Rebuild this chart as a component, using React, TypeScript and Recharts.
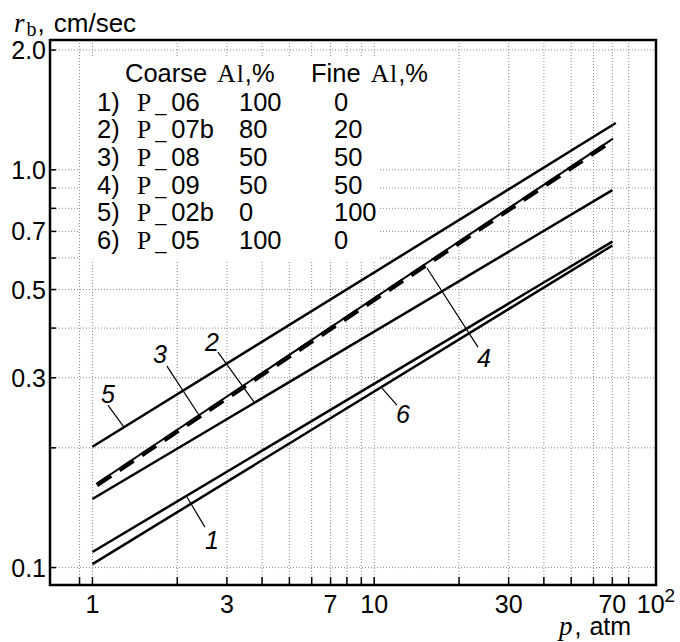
import React from "react";
import {
    LineChart,
    Line,
    XAxis,
    YAxis,
    CartesianGrid,
    ReferenceArea,
    ReferenceLine,
    ReferenceDot,
} from "recharts";

const SANS = '"Liberation Sans", Arial, Helvetica, sans-serif';
const SERIF = '"Liberation Serif", "Times New Roman", serif';

// pressure p, atm, at the two ends of each fitted line
const pressure = [1, 70];
const pressureP08 = [1.037, 70.4];
const pressureP02b = [1, 72];

// burning rate r_b, cm/sec, at those ends
const rbP06 = [0.1094, 0.66];
const rbP07b = [0.1487, 0.889];
const rbP08 = [0.1612, 1.188];
const rbP09 = [0.1627, 1.198];
const rbP02b = [0.2013, 1.311];
const rbP05 = [0.102, 0.645];

const xTicks = [0.9, 1, 2, 3, 4, 5, 6, 7, 8, 9, 10, 20, 30, 40, 50, 60, 70, 80, 100];
const xTickLabels = [1, 3, 7, 10, 30, 70];
const yTicks = [0.1, 0.2, 0.3, 0.4, 0.5, 0.6, 0.7, 0.8, 0.9, 1.0, 2.0];
const yTickLabels = [0.1, 0.3, 0.5, 0.7, 1.0, 2.0];

const xDomain = [0.707, 100];
const yDomain = [0.0904, 2.12];

// legend table
const legendNo = ["1)", "2)", "3)", "4)", "5)", "6)"];
const legendId = ["06", "07b", "08", "09", "02b", "05"];
const coarseAl = ["100", "80", "50", "50", "0", "100"];
const fineAl = ["0", "20", "50", "50", "100", "0"];

// curve number callouts, in data units (p, r_b)
const calloutLabel = ["5", "3", "2", "4", "6", "1"];
const calloutText = [[1.135, 0.273], [1.736, 0.344], [2.656, 0.369], [24.5, 0.3364], [12.65, 0.2432], [2.656, 0.1173]];
const leaderFrom = [[1.135, 0.256], [1.838, 0.321], [2.789, 0.348], [23.35, 0.3584], [12.04, 0.2562], [2.507, 0.1264]];
const leaderTo = [[1.294, 0.2256], [2.388, 0.2418], [3.743, 0.2608], [15.39, 0.5664], [10.65, 0.2827], [2.165, 0.1504]];

const toPoints = (ps: number[], rs: number[]) => ps.map((p, i) => ({ p, r: rs[i] }));

function XTick(props: any) {
    const { x, y, payload } = props;
    const v = payload.value;
    return (
        <g>
            <line x1={x} y1={y} x2={x} y2={y - 8} stroke="#000" strokeWidth={1.5} />
            {xTickLabels.includes(v) && (
                <text x={x} y={y + 28} textAnchor="middle" fontFamily={SANS} fontSize={25} fill="#000">
                    {v}
                </text>
            )}
            {v === 100 && (
                <text x={x} y={y + 28} textAnchor="middle" fontFamily={SANS} fontSize={25} fill="#000">
                    10<tspan dy={-11} fontSize={19}>2</tspan>
                </text>
            )}
        </g>
    );
}

function YTick(props: any) {
    const { x, y, payload } = props;
    const v = payload.value;
    return (
        <g>
            <line x1={x} y1={y} x2={x + 6} y2={y} stroke="#000" strokeWidth={1.5} />
            {yTickLabels.includes(v) && (
                <text x={x - 4} y={y + 9} textAnchor="end" fontFamily={SANS} fontSize={25} fill="#000">
                    {v.toFixed(1)}
                </text>
            )}
        </g>
    );
}

export default function App() {
    const solid = { stroke: "#000", strokeWidth: 2.5, dot: false, type: "linear" as const, isAnimationActive: false };
    return (
        <div style={{ position: "absolute", left: 0, top: 0, width: 680, height: 642, background: "#fff" }}>
            <LineChart width={680} height={642} margin={{ top: 40, right: 24, bottom: 0, left: 0 }}>
                <CartesianGrid stroke="#8a8a8a" strokeDasharray="1 2" />
                <XAxis
                    dataKey="p"
                    type="number"
                    scale="log"
                    domain={xDomain}
                    allowDataOverflow
                    ticks={xTicks}
                    interval={0}
                    height={57}
                    axisLine={false}
                    tickLine={false}
                    tickSize={0}
                    tickMargin={0}
                    tick={XTick}
                />
                <YAxis
                    dataKey="r"
                    type="number"
                    scale="log"
                    domain={yDomain}
                    allowDataOverflow
                    ticks={yTicks}
                    interval={0}
                    width={50}
                    axisLine={false}
                    tickLine={false}
                    tickSize={0}
                    tickMargin={0}
                    tick={YTick}
                />
                <ReferenceArea
                    x1={xDomain[0]}
                    x2={xDomain[1]}
                    y1={yDomain[0]}
                    y2={yDomain[1]}
                    fill="none"
                    fillOpacity={0}
                    stroke="#000"
                    strokeWidth={2.5}
                    ifOverflow="visible"
                />
                <Line data={toPoints(pressure, rbP06)} dataKey="r" {...solid} />
                <Line data={toPoints(pressure, rbP07b)} dataKey="r" {...solid} />
                <Line data={toPoints(pressureP08, rbP09)} dataKey="r" {...solid} strokeWidth={2} />
                <Line
                    data={toPoints(pressureP08, rbP08)}
                    dataKey="r"
                    {...solid}
                    strokeWidth={4.5}
                    strokeDasharray="17 10"
                />
                <Line data={toPoints(pressureP02b, rbP02b)} dataKey="r" {...solid} />
                <Line data={toPoints(pressure, rbP05)} dataKey="r" {...solid} />
                {calloutLabel.map((lab, i) => (
                    <ReferenceLine
                        key={`leader-${lab}`}
                        segment={[
                            { x: leaderFrom[i][0], y: leaderFrom[i][1] },
                            { x: leaderTo[i][0], y: leaderTo[i][1] },
                        ]}
                        stroke="#000"
                        strokeWidth={1.2}
                        ifOverflow="visible"
                    />
                ))}
                {calloutLabel.map((lab, i) => (
                    <ReferenceDot
                        key={`label-${lab}`}
                        x={calloutText[i][0]}
                        y={calloutText[i][1]}
                        r={0}
                        ifOverflow="visible"
                        shape={(p: any) => (
                            <text
                                x={p.cx}
                                y={p.cy + 9}
                                textAnchor="middle"
                                fontFamily={SANS}
                                fontStyle="italic"
                                fontSize={25}
                                fill="#000"
                            >
                                {lab}
                            </text>
                        )}
                    />
                ))}
            </LineChart>
            <svg
                width={680}
                height={642}
                style={{ position: "absolute", left: 0, top: 0, pointerEvents: "none" }}
            >
                <rect x={80} y={57} width={298} height={205} fill="#fff" />
                <text x={125} y={82} fontFamily={SANS} fontSize={25.5} fill="#000">
                    Coarse <tspan dx={3} fontFamily={SERIF} letterSpacing={1}>Al</tspan>,%
                </text>
                <text x={311} y={82} fontFamily={SANS} fontSize={25.5} fill="#000">
                    Fine <tspan dx={3} fontFamily={SERIF} letterSpacing={1}>Al</tspan>,%
                </text>
                {legendNo.map((n, i) => {
                    const by = 110.5 + i * 27.7;
                    return (
                        <g key={n} fontFamily={SANS} fontSize={25.5} fill="#000">
                            <text x={97} y={by}>{n}</text>
                            <text x={137} y={by}>
                                <tspan fontFamily={SERIF}>P</tspan>
                                <tspan dx={4} fontSize={20}>_</tspan>
                                <tspan dx={5}>{legendId[i]}</tspan>
                            </text>
                            <text x={239} y={by}>{coarseAl[i]}</text>
                            <text x={334} y={by}>{fineAl[i]}</text>
                        </g>
                    );
                })}
                <text x={14} y={32} fill="#000">
                    <tspan fontFamily={SERIF} fontStyle="italic" fontSize={27}>r</tspan>
                    <tspan dx={2} dy={4} fontFamily={SERIF} fontSize={20}>b</tspan>
                    <tspan dx={1} dy={-4} fontFamily={SANS} fontSize={26}>,</tspan>
                    <tspan dx={9} fontFamily={SANS} fontSize={26}>cm/sec</tspan>
                </text>
                <text x={559} y={635} fill="#000">
                    <tspan fontFamily={SERIF} fontStyle="italic" fontSize={27}>p</tspan>
                    <tspan dx={2} fontFamily={SANS} fontSize={25}>,</tspan>
                    <tspan dx={8} fontFamily={SANS} fontSize={25}>atm</tspan>
                </text>
            </svg>
        </div>
    );
}
